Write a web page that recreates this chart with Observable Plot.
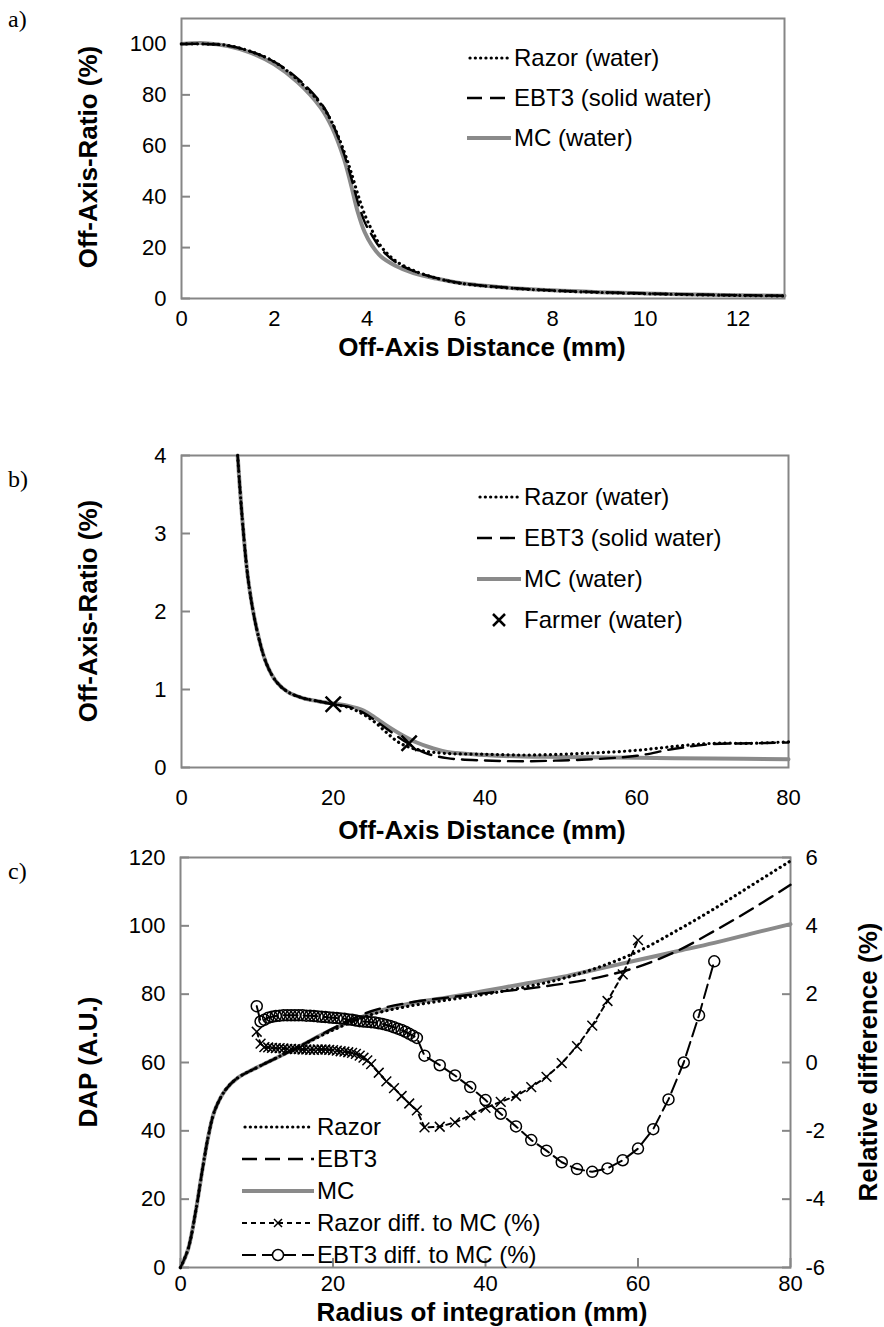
<!DOCTYPE html>
<html><head><meta charset="utf-8">
<script src="https://cdn.jsdelivr.net/npm/d3@7"></script>
<script src="https://cdn.jsdelivr.net/npm/@observablehq/plot@0.6"></script>
<style>
body{margin:0;background:#fff;}
#root{position:relative;width:884px;height:1327px;font-family:"Liberation Sans",Arial,sans-serif;color:#000;overflow:hidden;}
.title{font-weight:bold;font-size:26px;white-space:nowrap;line-height:1;}
.ytitle{font-weight:bold;font-size:26px;white-space:nowrap;line-height:1;transform:translate(-50%,-50%) rotate(-90deg);}
.xt{transform:translate(-50%,-50%);}
.plabel{font-family:"Liberation Serif","Times New Roman",serif;font-size:24px;}
.leg{font-size:24px;white-space:nowrap;display:flex;align-items:center;height:30px;}
.leg svg{margin-right:3px;}
</style></head><body><div id="root"></div>
<script>
// ---------- Panel a: Off-axis ratio (%) vs off-axis distance (mm) ----------
const aRazor = [[0,100],[0.5,100],[1,99.4],[1.5,97],[2,93],[2.5,86],[3,76.5],[3.25,69],[3.5,58],[3.65,50],[3.8,41],[3.95,33],[4.1,27],[4.3,20.5],[4.6,15],[5,11],[5.5,8],[6,6],[7,4.2],[8,3.1],[9,2.4],[10,1.9],[11,1.5],[12,1.2],[13,1.0]];
const aEBT3  = [[0,100],[0.5,100],[1,99.3],[1.5,97],[2,93],[2.5,86.5],[3,77],[3.25,69],[3.5,57],[3.65,48],[3.8,38],[3.95,30],[4.1,25],[4.3,19.5],[4.6,14.5],[5,10.8],[5.5,8],[6,6.1],[7,4.3],[8,3.2],[9,2.5],[10,2],[11,1.6],[12,1.3],[13,1.1]];
const aMC    = [[0,100],[0.5,100.3],[1,99.2],[1.5,96.5],[2,92],[2.5,85],[3,75],[3.25,67],[3.5,55],[3.65,45],[3.8,34],[3.95,26],[4.1,21],[4.3,16.5],[4.6,13],[5,10],[5.5,7.8],[6,6.1],[7,4.3],[8,3.2],[9,2.5],[10,2],[11,1.6],[12,1.3],[13,1.1]];
const aXTicks = [0,2,4,6,8,10,12];
const aYTicks = [0,20,40,60,80,100];

// ---------- Panel b: tail of the off-axis ratio ----------
const bRazor = [[7.4,4],[8,3.2],[8.8,2.4],[9.9,1.78],[11.2,1.33],[12.5,1.1],[14,0.97],[16,0.89],[18,0.85],[20,0.81],[22,0.77],[24,0.68],[25.5,0.58],[27,0.45],[28.5,0.33],[30,0.26],[32,0.21],[35,0.18],[40,0.17],[45,0.16],[50,0.17],[55,0.19],[60,0.22],[65,0.27],[70,0.31],[75,0.31],[80,0.33]];
const bEBT3  = [[7.4,4],[8,3.2],[8.8,2.4],[9.9,1.78],[11.2,1.33],[12.5,1.1],[14,0.97],[16,0.89],[18,0.85],[20,0.81],[22,0.78],[24,0.7],[26,0.57],[28,0.43],[30,0.3],[32,0.19],[35,0.12],[40,0.09],[45,0.08],[50,0.09],[55,0.11],[60,0.15],[65,0.24],[70,0.3],[75,0.31],[80,0.32]];
const bMC    = [[7.4,4],[8,3.2],[8.8,2.4],[9.9,1.78],[11.2,1.33],[12.5,1.1],[14,0.97],[16,0.89],[18,0.85],[20,0.82],[22,0.79],[24,0.73],[25.5,0.64],[27,0.54],[29,0.42],[31,0.32],[33,0.25],[35,0.2],[40,0.16],[45,0.14],[50,0.135],[60,0.125],[70,0.115],[80,0.105]];
const bFarmer = [[20,0.81],[30,0.31]];
const bXTicks = [0,20,40,60,80];
const bYTicks = [0,1,2,3,4];

// ---------- Panel c: DAP (A.U.) and relative difference (%) vs radius ----------
const cRazor = [[0,0],[1,5.4],[2,16.5],[2.9,29],[3.7,39],[4.5,46],[5.9,52],[7.5,55.5],[10,58.5],[15,64],[20,69.5],[25,74],[30,76.5],[35,78.3],[40,80],[45,82],[50,84.5],[55,88],[60,92.5],[65,98.5],[70,105],[75,112],[80,119]];
const cEBT3  = [[0,0],[1,5.4],[2,16.5],[2.9,29],[3.7,39],[4.5,46],[5.9,52],[7.5,55.5],[10,58.5],[15,64],[20,70],[25,75],[30,77.5],[35,79],[40,80.3],[45,81.5],[50,83],[55,85],[60,88],[65,92.5],[70,98.5],[75,105],[80,112]];
const cMC    = [[0,0],[1,5.4],[2,16.5],[2.9,29],[3.7,39],[4.5,46],[5.9,52],[7.5,55.5],[10,58.5],[15,64],[20,69.8],[25,74.3],[30,77.2],[35,79],[40,81],[45,83],[50,85],[55,87.5],[60,90],[65,92.5],[70,95],[75,97.8],[80,100.5]];
const cRazorDiff = [[10,0.9],[10.5,0.55],[11,0.45],[11.5,0.44],[12,0.43],[12.5,0.42],[13,0.42],[13.5,0.41],[14,0.4],[14.5,0.4],[15,0.39],[15.5,0.39],[16,0.38],[16.5,0.38],[17,0.37],[17.5,0.37],[18,0.38],[18.5,0.38],[19,0.38],[19.5,0.37],[20,0.36],[20.5,0.35],[21,0.33],[21.5,0.32],[22,0.3],[22.5,0.28],[23,0.25],[23.5,0.2],[24,0.14],[24.5,0.06],[25,-0.05],[26,-0.3],[27,-0.55],[28,-0.75],[29,-0.98],[30,-1.2],[31,-1.4],[32,-1.9],[34,-1.88],[36,-1.75],[38,-1.55],[40,-1.33],[42,-1.15],[44,-0.98],[46,-0.72],[48,-0.42],[50,-0.02],[52,0.48],[54,1.08],[56,1.8],[58,2.58],[60,3.58]];
const cEBT3Diff = [[10,1.65],[10.5,1.2],[11,1.25],[11.5,1.31],[12,1.34],[12.5,1.36],[13,1.37],[13.5,1.38],[14,1.38],[14.5,1.38],[15,1.38],[15.5,1.38],[16,1.38],[16.5,1.37],[17,1.37],[17.5,1.36],[18,1.35],[18.5,1.34],[19,1.33],[19.5,1.32],[20,1.31],[20.5,1.3],[21,1.29],[21.5,1.28],[22,1.26],[22.5,1.25],[23,1.23],[23.5,1.21],[24,1.2],[24.5,1.19],[25,1.18],[25.5,1.17],[26,1.15],[26.5,1.13],[27,1.1],[27.5,1.07],[28,1.03],[28.5,0.99],[29,0.95],[29.5,0.9],[30,0.84],[30.5,0.78],[31,0.72],[32,0.2],[34,-0.08],[36,-0.38],[38,-0.72],[40,-1.1],[42,-1.5],[44,-1.87],[46,-2.27],[48,-2.58],[50,-2.92],[52,-3.12],[54,-3.2],[56,-3.1],[58,-2.86],[60,-2.52],[62,-1.95],[64,-1.08],[66,0.0],[68,1.38],[70,2.96]];
const cXTicks = [0,20,40,60,80];
const cYTicks = [0,20,40,60,80,100,120];
const cY2Ticks = [-6,-4,-2,0,2,4,6];

// ---------- styles ----------
const FRAME = "#868686", MCGRAY = "#8a8a8a";
const FONT = '"Liberation Sans", Arial, sans-serif';
const FS = 22;
const root = document.getElementById("root");

function place(el, left, top) { el.style.position = "absolute"; el.style.left = left + "px"; el.style.top = top + "px"; root.appendChild(el); return el; }
function div(cls, html, left, top) { const d = document.createElement("div"); d.className = cls; d.innerHTML = html; return place(d, left, top); }

const razorStyle = {stroke: "#000", strokeWidth: 3.2, strokeDasharray: "0.1 5.2", strokeLinecap: "round", curve: "catmull-rom"};
const ebtStyle = {stroke: "#000", strokeWidth: 2.4, strokeDasharray: "15 8", curve: "catmull-rom"};
const mcStyle = {stroke: MCGRAY, strokeWidth: 4, curve: "catmull-rom"};
const px = d => d[0], py = d => d[1];
const plotStyle = {fontFamily: FONT, fontSize: FS + "px", background: "transparent", color: "#000"};

function axY(ticks, extra = {}) {
  return Plot.axisY({ticks, tickSize: -9, tickPadding: 24, stroke: FRAME, strokeWidth: 2, fill: "#000", label: null, fontSize: FS, ...extra});
}
function axX(ticks, tickSize, tickPadding) {
  return Plot.axisX({ticks, tickSize, tickPadding, stroke: FRAME, strokeWidth: 2, fill: "#000", label: null, fontSize: FS});
}

// Panel a
const plotA = Plot.plot({
  width: 884, height: 345, marginLeft: 181, marginRight: 100, marginTop: 18, marginBottom: 47,
  style: plotStyle, x: {domain: [0, 13]}, y: {domain: [0, 110]},
  marks: [
    axY(aYTicks), axX(aXTicks, 0, 12),
    Plot.frame({stroke: FRAME, strokeWidth: 2}),
    Plot.line(aMC, {x: px, y: py, ...mcStyle}),
    Plot.line(aEBT3, {x: px, y: py, ...ebtStyle}),
    Plot.line(aRazor, {x: px, y: py, ...razorStyle})
  ]
});
place(plotA, 0, 0);

// Panel b
const plotB = Plot.plot({
  width: 884, height: 380, marginLeft: 181, marginRight: 96, marginTop: 15, marginBottom: 53,
  style: plotStyle, x: {domain: [0, 80]}, y: {domain: [0, 4]},
  marks: [
    axY(bYTicks, {tickFormat: d => String(d)}), axX(bXTicks, 0, 22),
    Plot.frame({stroke: FRAME, strokeWidth: 2}),
    Plot.line(bMC, {x: px, y: py, ...mcStyle}),
    Plot.line(bEBT3, {x: px, y: py, ...ebtStyle}),
    Plot.line(bRazor, {x: px, y: py, ...razorStyle}),
    Plot.dot(bFarmer, {x: px, y: py, symbol: "times", r: 7, stroke: "#000", strokeWidth: 2.5})
  ]
});
place(plotB, 0, 440);

// Panel c
const toLeft = v => (v + 6) * 10; // relative difference (%) onto DAP scale
const plotC = Plot.plot({
  width: 884, height: 487, marginLeft: 180, marginRight: 94, marginTop: 17, marginBottom: 60,
  style: plotStyle, x: {domain: [0, 80]}, y: {domain: [0, 120]},
  marks: [
    axY(cYTicks),
    axY(cY2Ticks.map(toLeft), {anchor: "right", tickFormat: d => String(Math.round(d / 10 - 6))}),
    axX(cXTicks, -9, 17),
    Plot.frame({stroke: FRAME, strokeWidth: 2}),
    Plot.line(cMC, {x: px, y: py, ...mcStyle}),
    Plot.line(cEBT3, {x: px, y: py, ...ebtStyle}),
    Plot.line(cRazor, {x: px, y: py, ...razorStyle}),
    Plot.line(cRazorDiff, {x: px, y: d => toLeft(d[1]), stroke: "#000", strokeWidth: 2, strokeDasharray: "5 4"}),
    Plot.dot(cRazorDiff, {x: px, y: d => toLeft(d[1]), symbol: "times", r: 4.5, stroke: "#000", strokeWidth: 1.5}),
    Plot.line(cEBT3Diff, {x: px, y: d => toLeft(d[1]), stroke: "#000", strokeWidth: 2, strokeDasharray: "14 6"}),
    Plot.dot(cEBT3Diff, {x: px, y: d => toLeft(d[1]), symbol: "circle", r: 5.5, fill: "none", stroke: "#000", strokeWidth: 1.5})
  ]
});
place(plotC, 0, 840);

// ---------- titles, panel labels ----------
div("plabel", "a)", 8, 6);
div("plabel", "b)", 8, 466);
div("plabel", "c)", 8, 858);
div("title xt", "Off-Axis Distance (mm)", 482, 347);
div("title xt", "Off-Axis Distance (mm)", 482, 830);
div("title xt", "Radius of integration (mm)", 482, 1312);
div("ytitle", "Off-Axis-Ratio (%)", 88, 157);
div("ytitle", "Off-Axis-Ratio (%)", 88, 611);
div("ytitle", "DAP (A.U.)", 88, 1062);
div("ytitle", "Relative difference (%)", 868, 1062);

// ---------- legends ----------
function swatch(kind, w) {
  const h = 14, m = h / 2;
  let s = `<svg width="${w}" height="${h}">`;
  if (kind === "razor") s += `<line x1="3" y1="${m}" x2="${w-3}" y2="${m}" stroke="#000" stroke-width="3.2" stroke-dasharray="0.1 5.2" stroke-linecap="round"/>`;
  if (kind === "ebt") s += `<line x1="0" y1="${m}" x2="${w}" y2="${m}" stroke="#000" stroke-width="2.4" stroke-dasharray="15 8"/>`;
  if (kind === "mc") s += `<line x1="0" y1="${m}" x2="${w}" y2="${m}" stroke="${MCGRAY}" stroke-width="4" stroke-linecap="round"/>`;
  if (kind === "farmer") s += `<path d="M${w/2-6},${m-6}L${w/2+6},${m+6}M${w/2-6},${m+6}L${w/2+6},${m-6}" stroke="#000" stroke-width="2.5"/>`;
  if (kind === "rdiff") s += `<line x1="0" y1="${m}" x2="${w}" y2="${m}" stroke="#000" stroke-width="2" stroke-dasharray="5 4"/><path d="M${w/2-4},${m-4}L${w/2+4},${m+4}M${w/2-4},${m+4}L${w/2+4},${m-4}" stroke="#000" stroke-width="1.5"/>`;
  if (kind === "ediff") s += `<line x1="0" y1="${m}" x2="${w}" y2="${m}" stroke="#000" stroke-width="2" stroke-dasharray="14 6"/><circle cx="${w/2}" cy="${m}" r="5.5" fill="#fff" stroke="#000" stroke-width="1.5"/>`;
  return s + "</svg>";
}
function legend(items, left, top, gap, w) {
  items.forEach(([kind, label], i) => div("leg", swatch(kind, w) + `<span>${label}</span>`, left, top + i * gap));
}
legend([["razor", "Razor (water)"], ["ebt", "EBT3 (solid water)"], ["mc", "MC (water)"]], 467, 43, 40, 44);
legend([["razor", "Razor (water)"], ["ebt", "EBT3 (solid water)"], ["mc", "MC (water)"], ["farmer", "Farmer (water)"]], 477, 482, 41, 44);
legend([["razor", "Razor"], ["ebt", "EBT3"], ["mc", "MC"], ["rdiff", "Razor diff. to MC (%)"], ["ediff", "EBT3 diff. to MC (%)"]], 242, 1112, 32, 72);
</script>
</body></html>
